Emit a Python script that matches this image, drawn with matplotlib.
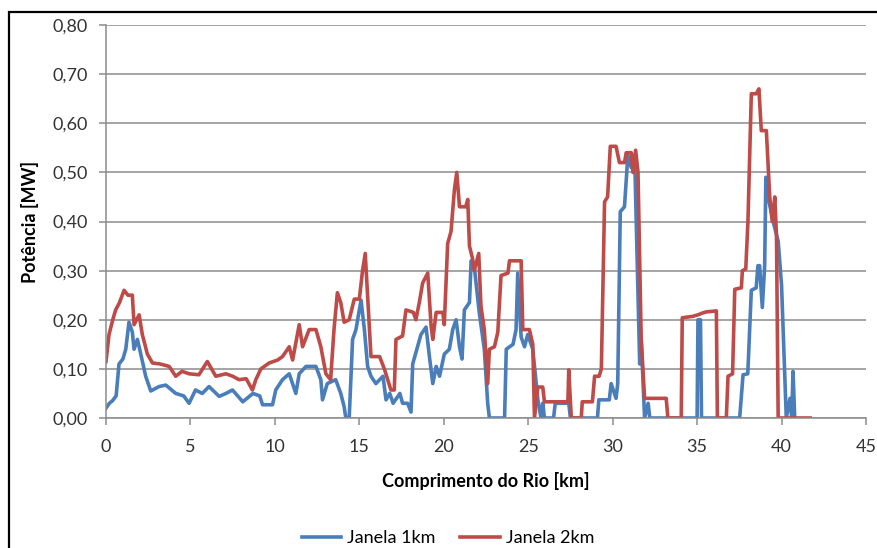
import matplotlib
matplotlib.use("Agg")
import matplotlib.pyplot as plt
from matplotlib.patches import Rectangle
from matplotlib.ticker import FuncFormatter

plt.rcParams['font.family'] = ['Lato', 'DejaVu Sans']

# Janela 1km
x_1km = [0.0, 0.2, 0.38, 0.6, 0.77, 1.0, 1.17, 1.36, 1.56, 1.66, 1.86, 2.06, 2.35, 2.65, 3.14,
         3.54, 4.13, 4.6, 4.92, 5.3, 5.7, 6.1, 6.7, 7.1, 7.49, 8.1, 8.7, 9.1, 9.27, 9.86,
         10.05, 10.45, 10.85, 11.24, 11.44, 11.84, 12.43, 12.72, 12.82, 13.1, 13.6, 13.9, 14.1, 14.2, 14.4,
         14.6, 14.8, 15.1, 15.3, 15.49, 15.69, 15.98, 16.4, 16.58, 16.8, 17.0, 17.4, 17.56, 17.86, 18.06,
         18.16, 18.65, 18.95, 19.15, 19.35, 19.55, 19.75, 20.03, 20.33, 20.53, 20.73, 20.93, 21.08, 21.22, 21.52,
         21.62, 21.8, 22.1, 22.4, 22.6, 22.7, 23.6, 23.7, 24.1, 24.28, 24.38, 24.58, 24.78, 24.97, 25.27,
         25.57, 25.76, 25.86, 25.96, 26.5, 26.6, 27.4, 27.5, 28.4, 29.1, 29.18, 29.8, 29.91, 30.1, 30.2,
         30.3, 30.45, 30.7, 30.9, 31.1, 31.3, 31.6, 31.69, 31.89, 32.1, 32.2, 33.3, 35.0, 35.05, 35.2,
         35.26, 37.52, 37.72, 38.0, 38.21, 38.5, 38.6, 38.7, 38.86, 39.0, 39.07, 39.2, 39.5, 39.8, 40.0,
         40.28, 40.5, 40.6, 40.68, 40.78]
y_1km = [0.02, 0.03, 0.035, 0.045, 0.11, 0.12, 0.14, 0.195, 0.175, 0.14, 0.16, 0.13, 0.085, 0.055, 0.064,
         0.067, 0.05, 0.045, 0.03, 0.057, 0.05, 0.064, 0.044, 0.05, 0.057, 0.033, 0.05, 0.045, 0.027, 0.027,
         0.057, 0.078, 0.09, 0.05, 0.09, 0.105, 0.105, 0.078, 0.037, 0.07, 0.078, 0.05, 0.023, 0.0, 0.0,
         0.16, 0.18, 0.24, 0.18, 0.105, 0.085, 0.07, 0.085, 0.037, 0.05, 0.03, 0.05, 0.03, 0.03, 0.012,
         0.11, 0.17, 0.185, 0.125, 0.07, 0.105, 0.085, 0.13, 0.14, 0.18, 0.20, 0.145, 0.12, 0.22, 0.235,
         0.32, 0.31, 0.215, 0.14, 0.03, 0.0, 0.0, 0.14, 0.15, 0.18, 0.295, 0.165, 0.145, 0.17, 0.14,
         0.037, 0.0, 0.03, 0.0, 0.0, 0.03, 0.03, 0.0, 0.0, 0.0, 0.037, 0.037, 0.07, 0.05, 0.04,
         0.07, 0.42, 0.43, 0.535, 0.51, 0.535, 0.11, 0.16, 0.0, 0.03, 0.0, 0.0, 0.0, 0.20, 0.20,
         0.0, 0.0, 0.088, 0.09, 0.26, 0.265, 0.31, 0.31, 0.225, 0.31, 0.49, 0.45, 0.40, 0.36, 0.27,
         0.0, 0.04, 0.0, 0.095, 0.0]

# Janela 2km
x_2km = [0.0, 0.18, 0.4, 0.57, 0.8, 1.07, 1.3, 1.56, 1.66, 1.96, 2.15, 2.45, 2.75, 3.2, 3.74,
         4.13, 4.5, 4.92, 5.5, 6.0, 6.5, 7.1, 7.5, 7.88, 8.3, 8.67, 8.87, 9.17, 9.66, 10.16,
         10.45, 10.85, 11.05, 11.44, 11.64, 12.03, 12.43, 12.72, 13.02, 13.3, 13.5, 13.7, 13.9, 14.1, 14.4,
         14.7, 15.0, 15.19, 15.35, 15.49, 15.69, 16.2, 16.48, 16.87, 17.07, 17.17, 17.56, 17.76, 18.2, 18.35,
         18.55, 18.75, 19.05, 19.25, 19.35, 19.55, 19.94, 20.03, 20.23, 20.43, 20.63, 20.77, 20.93, 21.3, 21.42,
         21.52, 21.7, 21.8, 22.07, 22.2, 22.4, 22.6, 22.7, 23.0, 23.2, 23.39, 23.8, 23.89, 24.58, 24.68,
         25.07, 25.27, 25.37, 25.57, 25.86, 25.96, 27.35, 27.4, 27.55, 28.14, 28.2, 28.8, 28.93, 29.2, 29.33,
         29.52, 29.7, 29.86, 30.2, 30.4, 30.7, 30.8, 31.1, 31.2, 31.36, 31.5, 31.69, 31.89, 33.17, 33.27,
         34.06, 34.12, 34.75, 35.05, 35.34, 35.54, 36.14, 36.2, 36.73, 36.83, 37.1, 37.23, 37.62, 37.68, 37.88,
         38.01, 38.21, 38.5, 38.66, 38.8, 39.1, 39.3, 39.45, 39.6, 39.7, 39.8, 41.7]
y_2km = [0.115, 0.17, 0.2, 0.22, 0.235, 0.26, 0.25, 0.25, 0.19, 0.21, 0.17, 0.13, 0.112, 0.11, 0.105,
         0.085, 0.095, 0.09, 0.088, 0.115, 0.085, 0.09, 0.085, 0.078, 0.08, 0.057, 0.078, 0.1, 0.112, 0.118,
         0.125, 0.145, 0.118, 0.19, 0.145, 0.18, 0.18, 0.145, 0.09, 0.078, 0.18, 0.255, 0.235, 0.195, 0.20,
         0.242, 0.242, 0.30, 0.335, 0.25, 0.125, 0.125, 0.1, 0.057, 0.057, 0.16, 0.167, 0.22, 0.215, 0.20,
         0.235, 0.275, 0.295, 0.187, 0.16, 0.215, 0.215, 0.19, 0.355, 0.38, 0.465, 0.50, 0.43, 0.43, 0.445,
         0.35, 0.325, 0.30, 0.335, 0.228, 0.18, 0.07, 0.14, 0.145, 0.175, 0.29, 0.295, 0.32, 0.32, 0.18,
         0.18, 0.15, 0.0, 0.063, 0.063, 0.033, 0.033, 0.098, 0.0, 0.0, 0.033, 0.033, 0.085, 0.085, 0.1,
         0.44, 0.45, 0.553, 0.553, 0.52, 0.52, 0.54, 0.54, 0.50, 0.545, 0.50, 0.16, 0.04, 0.04, 0.0,
         0.0, 0.204, 0.207, 0.21, 0.214, 0.216, 0.218, 0.0, 0.0, 0.085, 0.09, 0.262, 0.265, 0.30, 0.303,
         0.40, 0.66, 0.66, 0.67, 0.585, 0.585, 0.45, 0.40, 0.45, 0.37, 0.0, 0.0]

series_labels = ["Janela 1km", "Janela 2km"]
colors = ['#4A7EBB', '#BE4B48']
grey = '#8c8c8c'

fig = plt.figure(figsize=(8.78, 5.48), dpi=100)
ax = fig.add_axes([106 / 878, 1 - 418 / 548, 760 / 878, 393 / 548])

ax.plot(x_1km, y_1km, color=colors[0], lw=2.6, solid_joinstyle='round', label=series_labels[0])
ax.plot(x_2km, y_2km, color=colors[1], lw=2.6, solid_joinstyle='round', label=series_labels[1])

ax.set_xlim(0, 45)
ax.set_ylim(0, 0.8)
ax.set_xticks(range(0, 46, 5))
ax.set_yticks([i / 10 for i in range(9)])
ax.yaxis.set_major_formatter(FuncFormatter(lambda v, p: f"{v:.2f}".replace('.', ',')))
ax.grid(axis='y', color=grey, lw=1.1)
ax.set_axisbelow(True)
for s in ['top', 'right']:
    ax.spines[s].set_visible(False)
for s in ['left', 'bottom']:
    ax.spines[s].set_color(grey)
    ax.spines[s].set_linewidth(1.1)
ax.tick_params(axis='x', colors=grey, labelcolor='#333333', labelsize=13, length=5, width=1.1, pad=10)
ax.tick_params(axis='y', colors=grey, labelcolor='#333333', labelsize=13, length=5, width=1.1, pad=8)

ax.set_xlabel('Comprimento do Rio [km]', fontsize=13, fontweight='bold', labelpad=12)
ax.set_ylabel('Potência [MW]', fontsize=13, fontweight='bold', labelpad=10)

ax.legend(loc='center', bbox_to_anchor=(0.51, 0.018), bbox_transform=fig.transFigure, ncol=2,
          frameon=False, fontsize=13, handlelength=2.2, handletextpad=0.3, columnspacing=1.4)

fig.patches.append(Rectangle((9 / 878, -0.5), 2, 0.5 + 1 - 12 / 548, transform=fig.transFigure,
                             fill=False, edgecolor='black', lw=1.6))

fig.savefig('out.png', dpi=100)
